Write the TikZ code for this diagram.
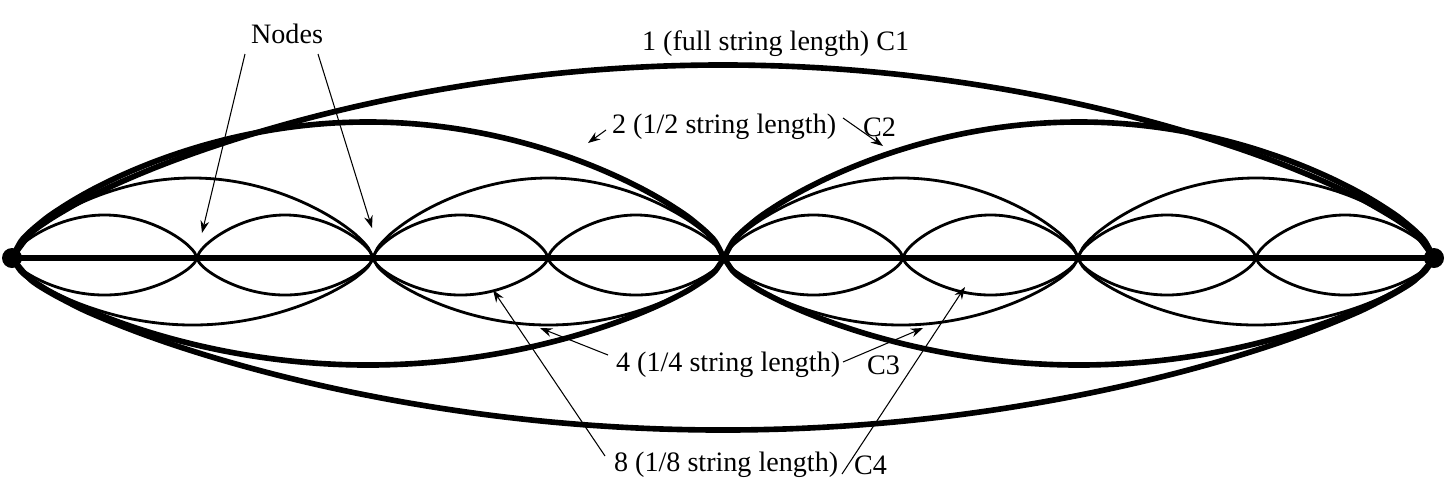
\documentclass[tikz,border=0pt]{standalone}
\usepackage{fontspec}
\setmainfont{Liberation Serif}
\usetikzlibrary{arrows.meta}
\tikzset{
  thickloop/.style={line width=3.2pt},
  thinloop/.style={line width=1.6pt},
  lbl/.style={font=\fontsize{16}{18}\selectfont, inner sep=1pt, anchor=west},
  pointer/.style={-{Stealth[length=7pt,width=5pt]}, line width=0.6pt}
}
\newcommand{\loopat}[5]{% style, start, end, top amplitude, bottom amplitude
  \draw[#1] plot[domain=0:180,samples=80,smooth] ({#2+(#3-#2)/180*\x},{258-#4*sin(\x)^0.65});
  \draw[#1] plot[domain=0:180,samples=80,smooth] ({#2+(#3-#2)/180*\x},{258+#5*sin(\x)^0.65});
}
\begin{document}
\begin{tikzpicture}[x=0.02cm,y=-0.02cm]
    \useasboundingbox (0,0) rectangle (1446,498);
    % string
    \draw[line width=3.2pt] (12,258) -- (1434,258);
    \fill (12,258) circle (10);
    \fill (1434,258) circle (10);
    % C1
    \loopat{thickloop}{12}{1434}{193}{172}
    % C2
    \foreach \a/\b in {12/724, 724/1434}
        {\loopat{thickloop}{\a}{\b}{136}{107}}
    % C3
    \foreach \a/\b in {12/373, 373/724, 724/1078, 1078/1434}
        {\loopat{thinloop}{\a}{\b}{80}{67}}
    % C4
    \foreach \a/\b in {12/197, 197/373, 373/548, 548/724, 724/903, 903/1078, 1078/1256, 1256/1434}
        {\loopat{thinloop}{\a}{\b}{43}{37}}

    % labels
    \node[lbl] (nodes) at (249,34) {Nodes};
    \node[lbl] (one) at (640,44) {1 (full string length) C1};
    \node[lbl] (two) at (610,127) {2 (1/2 string length)};
    \node[lbl] (ctwo) at (861,127) {C2};
    \node[lbl] (four) at (614,365) {4 (1/4 string length)};
    \node[lbl] (cthree) at (865,365) {C3};
    \node[lbl] (eight) at (612,465) {8 (1/8 string length)};
    \node[lbl] (cfour) at (852,465) {C4};

    \coordinate (n1) at (202,233);
    \coordinate (n2) at (372,228);
    \coordinate (p2) at (588,143);
    \coordinate (pc2) at (883,146);
    \coordinate (p4) at (540,328);
    \coordinate (pc3) at (923,328);
    \coordinate (p8) at (493,290);
    \coordinate (pc4) at (965,287);

    \draw[pointer] (245,54) -- (n1);
    \draw[pointer] (318,54) -- (n2);
    \draw[pointer] (606,130) -- (p2);
    \draw[pointer] (843,118) -- (pc2);
    \draw[pointer] (608,355) -- (p4);
    \draw[pointer] (843,362) -- (pc3);
    \draw[pointer] (605,456) -- (p8);
    \draw[pointer] (842,474) -- (pc4);
\end{tikzpicture}
\end{document}
